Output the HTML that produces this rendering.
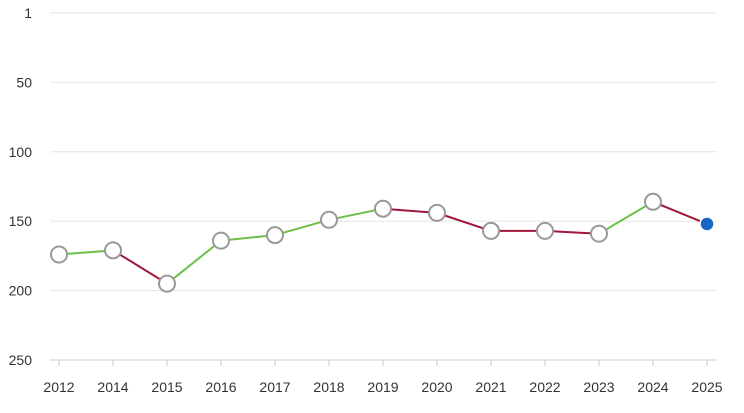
<!DOCTYPE html>
<html><head><meta charset="utf-8"><style>
html,body{margin:0;padding:0;background:#fff;}
svg{display:block;font-family:"Liberation Sans",sans-serif;}
</style></head><body>
<svg id="chart" width="744" height="413" viewBox="0 0 744 413">
<g id="grid"></g>
<g id="yaxis"></g>
<g id="xaxis"></g>
<g id="lines"></g>
<g id="points"></g>
</svg>
<script>
const years = ["2012","2014","2015","2016","2017","2018","2019","2020","2021","2022","2023","2024","2025"];
const ranks = [174,171,195,164,160,149,141,144,157,157,159,136,152];
const yTicks = [1,50,100,150,200,250];
const NS="http://www.w3.org/2000/svg";
function y(v){return 13+(v)*(360-13)/250;}
function x(i){return 59+i*54;}
function mk(t,a,p){const e=document.createElementNS(NS,t);for(const k in a)e.setAttribute(k,a[k]);p.appendChild(e);return e;}
const grid=document.getElementById('grid'),ya=document.getElementById('yaxis'),xa=document.getElementById('xaxis'),ln=document.getElementById('lines'),pt=document.getElementById('points');
yTicks.forEach(v=>{
 const yy=v===1?13:y(v);
 const g=mk('line',{x1:50,x2:717,y1:yy,y2:yy,stroke:v===250?'#ccc':'#e6e6e6','stroke-width':1},grid);
 
 
 const t=mk('text',{x:32,y:yy+5,'text-anchor':'end','font-size':14,fill:'#333'},ya);
 t.textContent=v;
 
 
});
years.forEach((yr,i)=>{
 const tk=mk('line',{x1:x(i),x2:x(i),y1:360,y2:366,stroke:'#ccc'},xa);
 
 
 const t=mk('text',{x:x(i),y:392,'text-anchor':'middle','font-size':14,fill:'#333'},xa);
 t.textContent=yr;
 
 
});
for(let i=0;i<ranks.length-1;i++){
 const up=ranks[i+1]<ranks[i];
 const l=mk('line',{x1:x(i),y1:y(ranks[i]),x2:x(i+1),y2:y(ranks[i+1]),stroke:up?'#6cc04a':'#a0173a','stroke-width':2},ln);
 
 
}
ranks.forEach((r,i)=>{
 const last=i===ranks.length-1;
 const c=mk('circle',{cx:x(i),cy:y(r),r:last?7:8,fill:last?'#1a66c2':'#fff',stroke:last?'#fff':'#999','stroke-width':last?1.5:2},pt);
 
 
});
</script>
</body></html>
